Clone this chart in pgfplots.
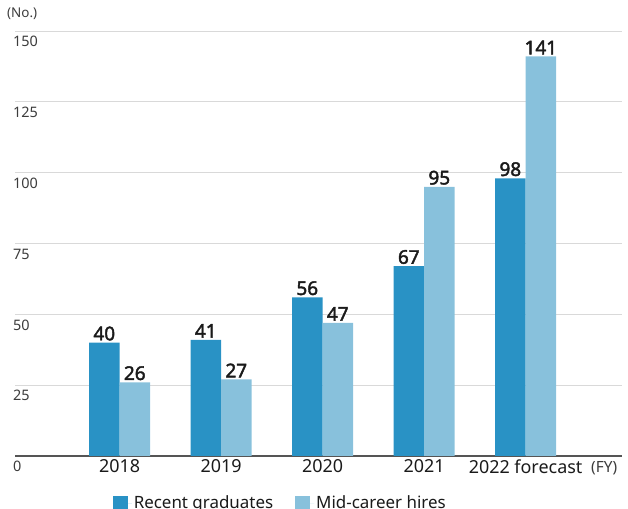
\documentclass[border=0pt]{standalone}
\usepackage{fontspec}
\setmainfont{Noto Sans}[BoldFont={Noto Sans}, BoldFeatures={FakeBold=2.2}]
\usepackage{pgfplots}
\pgfplotsset{compat=1.18}

\definecolor{darkbar}{HTML}{2992C5}
\definecolor{lightbar}{HTML}{88C1DC}
\definecolor{gridgray}{HTML}{D9D9D9}
\definecolor{axisgray}{HTML}{555555}
\definecolor{txt}{HTML}{1A1A1A}

\begin{document}
\begin{tikzpicture}[x=1bp,y=1bp]
\useasboundingbox (0,0) rectangle (628,509);
\begin{axis}[
	at={(15bp,53bp)}, anchor=south west,
	scale only axis,
	width=607bp, height=425bp,
	ybar=0pt, bar width=30.5bp,
	xmin=-1.03, xmax=4.95,
	ymin=0, ymax=150,
	ytick={0,25,...,150},
	xtick=data,
	xticklabels={2018,2019,2020,2021,2022 forecast},
	major tick length=0pt,
	axis x line*=bottom,
	axis y line*=left,
	y axis line style={draw=none},
	x axis line style={axisgray, line width=1.3bp, -},
	ymajorgrids,
	grid style={gridgray, line width=0.9bp},
	/pgf/number format/assume math mode=true,
	yticklabel style={anchor=north west, inner sep=0pt, xshift=-2bp, yshift=-5bp, font=\fontsize{14.5}{16}\selectfont, text=txt!85},
	xticklabel style={font=\fontsize{18}{20}\selectfont, text=txt, yshift=0bp},
	nodes near coords,
	every node near coord/.append style={font=\bfseries\fontsize{19}{21}\selectfont, text=txt, inner sep=2pt},
	legend style={at={(0.437,-0.111)}, anchor=center, draw=none, legend columns=2,
		font=\fontsize{17}{19}\selectfont, text=txt, inner sep=0pt,
		/tikz/every even column/.append style={column sep=20bp}},
	legend image code/.code={\fill[#1] (0bp,-7.5bp) rectangle (15bp,7.5bp); \path (0bp,0bp) -- (19bp,0bp);},
	clip=false,
]
\addplot[fill=darkbar, draw=none] coordinates {(0,40) (1,41) (2,56) (3,67) (4,98)};
\addplot[fill=lightbar, draw=none] coordinates {(0,26) (1,27) (2,47) (3,95) (4,141)};
\legend{Recent graduates, Mid-career hires}
\end{axis}
\node[anchor=west, inner sep=0pt, font=\fontsize{13.5}{15}\selectfont, text=txt!85] at (7,495) {(No.)};
\node[anchor=west, inner sep=0pt, font=\fontsize{15.5}{17}\selectfont, text=txt!85] at (591,41) {(FY)};
\end{tikzpicture}
\end{document}
